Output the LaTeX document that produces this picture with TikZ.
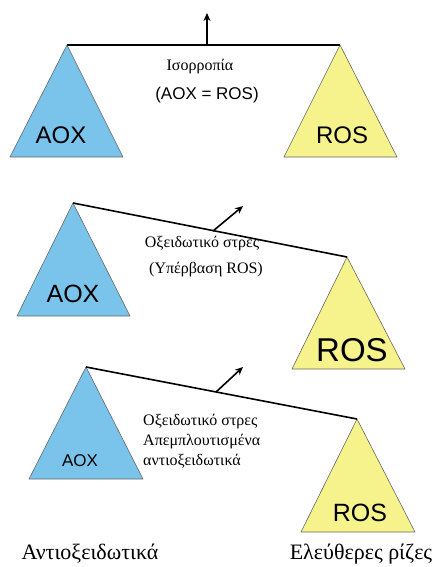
\documentclass[tikz,border=0pt]{standalone}
\usepackage{fontspec}
\setmainfont{Liberation Serif}
\newfontfamily\arialfont{Liberation Sans}
\usetikzlibrary{arrows.meta}

\definecolor{aoxblue}{RGB}{122,196,236}
\definecolor{rosyellow}{RGB}{247,243,140}

\begin{document}
\begin{tikzpicture}[x=1pt,y=-1pt,
  aoxtri/.style={fill=aoxblue, draw=black!60, line width=0.6pt},
  rostri/.style={fill=rosyellow, draw=black!60, line width=0.6pt},
  beam/.style={line width=1.6pt},
  lever/.style={line width=1.6pt, -{Stealth[length=8pt,width=7pt]}},
  sans/.style={font=\arialfont, inner sep=0pt},
  greek/.style={font=\fontsize{16}{20}\selectfont, inner sep=0pt}]
 \useasboundingbox (0,0) rectangle (434,567);

 % balance
 \coordinate (aoxtop1) at (67,45);
 \coordinate (rostop1) at (340,45);
 \draw[aoxtri] (aoxtop1) -- (10,157) -- (123,157) -- cycle;
 \draw[rostri] (rostop1) -- (284,157) -- (397,157) -- cycle;
 \draw[beam] (aoxtop1) -- (rostop1);
 \coordinate (pivot1) at (207,45);
 \coordinate (tip1) at (207,13);
 \draw[lever] (pivot1) -- (tip1);
 \node[sans, font=\arialfont\fontsize{24}{24}\selectfont] (aox1) at (61,135) {AOX};
 \node[sans, font=\arialfont\fontsize{24}{24}\selectfont] (ros1) at (342,135) {ROS};
 \node[greek] (txt1a) at (200,67) {Ισορροπία};
 \node[sans, font=\arialfont\fontsize{17}{17}\selectfont] (txt1b) at (207,95) {(AOX = ROS)};

 % ROS excess
 \coordinate (aoxtop2) at (73,203);
 \coordinate (rostop2) at (347,257);
 \draw[aoxtri] (aoxtop2) -- (17,316) -- (130,316) -- cycle;
 \draw[rostri] (rostop2) -- (292,369) -- (405,369) -- cycle;
 \draw[beam] (aoxtop2) -- (rostop2);
 \coordinate (pivot2) at (213,231);
 \coordinate (tip2) at (243,206);
 \draw[lever] (pivot2) -- (tip2);
 \node[sans, font=\arialfont\fontsize{25}{25}\selectfont] (aox2) at (73,294) {AOX};
 \node[sans, font=\arialfont\fontsize{33}{33}\selectfont] (ros2) at (352,350) {ROS};
 \node[greek] (txt2a) at (202,244) {Οξειδωτικό στρες};
 \node[greek] (txt2b) at (206,270) {(Υπέρβαση ROS)};

 % AOX depletion
 \coordinate (aoxtop3) at (86,367);
 \coordinate (rostop3) at (357,419);
 \draw[aoxtri] (aoxtop3) -- (29,479) -- (143,479) -- cycle;
 \draw[rostri] (rostop3) -- (301,532) -- (415,532) -- cycle;
 \draw[beam] (aoxtop3) -- (rostop3);
 \coordinate (pivot3) at (216,392);
 \coordinate (tip3) at (243,367);
 \draw[lever] (pivot3) -- (tip3);
 \node[sans, font=\arialfont\fontsize{17}{17}\selectfont] (aox3) at (80,461) {AOX};
 \node[sans, font=\arialfont\fontsize{25}{25}\selectfont] (ros3) at (360,513) {ROS};
 \node[greek, anchor=west] (txt3a) at (143,422) {Οξειδωτικό στρες};
 \node[greek, anchor=west] (txt3b) at (143,442) {Απεμπλουτισμένα};
 \node[greek, anchor=west] (txt3c) at (143,461) {αντιοξειδωτικά};

 \node[greek, font=\fontsize{22}{22}\selectfont] (antiox) at (90,554) {Αντιοξειδωτικά};
 \node[greek, font=\fontsize{22}{22}\selectfont] (freerad) at (361,554) {Ελεύθερες ρίζες};
\end{tikzpicture}
\end{document}
